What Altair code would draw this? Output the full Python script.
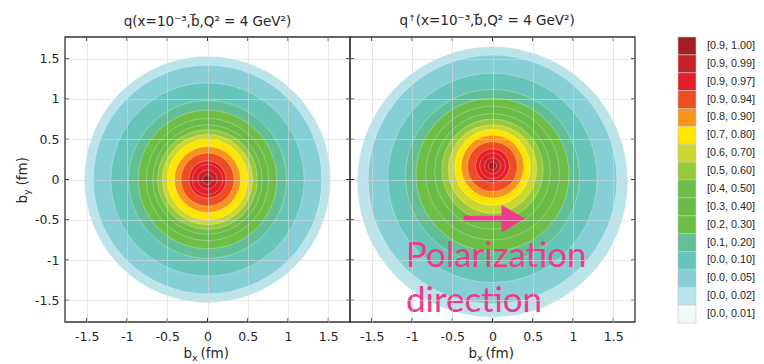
import altair as alt
import pandas as pd

# ---------------- data ----------------
band_labels = ["[0.9, 1.00]", "[0.9, 0.99]", "[0.9, 0.97]", "[0.9, 0.94]", "[0.8, 0.90]",
               "[0.7, 0.80]", "[0.6, 0.70]", "[0.5, 0.60]", "[0.4, 0.50]", "[0.3, 0.40]",
               "[0.2, 0.30]", "[0.1, 0.20]", "[0.0, 0.10]", "[0.0, 0.05]", "[0.0, 0.02]",
               "[0.0, 0.01]"]
band_colors = ["#A51C22", "#C82027", "#E31E26", "#EE4D24", "#F7941D",
               "#FFE600", "#CBD62F", "#97C93C", "#6DBE45", "#69BA47",
               "#6DBE45", "#63BF96", "#66C5B8", "#86CFD5", "#BBE4EA",
               "#F3F9FA"]

# left panel contours (band index, radius in fm, centre b_y in fm), outer -> inner
left_band = [14, 13, 12, 11, 10, 9, 8, 7, 6, 5, 4, 3, 2, 2, 1, 0]
left_r = [1.53, 1.42, 1.20, 0.98, 0.86, 0.76, 0.68, 0.62, 0.56, 0.50, 0.41, 0.33, 0.23, 0.19, 0.12, 0.06]
left_cy = [0.0] * 16

# right panel contours
right_band = [14, 13, 12, 11, 10, 9, 8, 7, 6, 5, 4, 3, 2, 2, 1, 0]
right_r = [1.68, 1.545, 1.30, 1.08, 0.95, 0.83, 0.72, 0.63, 0.55, 0.47, 0.39, 0.31, 0.21, 0.16, 0.10, 0.05]
right_cy = [-0.03, 0.0, 0.02, 0.04, 0.06, 0.08, 0.10, 0.12, 0.13, 0.15, 0.16, 0.16, 0.17, 0.17, 0.17, 0.17]

tick_values = [-1.5, -1, -0.5, 0, 0.5, 1, 1.5]
title_left = "q(x=10\u207b\u00b3,b\u20d7,Q\u00b2 = 4 GeV\u00b2)"
title_right_parts = ["q", "\u2191", "(x=10\u207b\u00b3,b\u20d7,Q\u00b2 = 4 GeV\u00b2)"]

arrow_x = [-0.36, 0.20]
arrow_y = [-0.486, -0.486]
arrow_head_x = [0.26]
arrow_head_y = [-0.486]
note_lines = ["Polarization", "direction"]

# ---------------- layout ----------------
W = 285
H = 285
DOM = [-1.77, 1.77]
FONT = "DejaVu Sans"
PINK = "#EE3A8C"
INK = "#262626"

xs = alt.Scale(domain=DOM, nice=False, zero=False)
ys = alt.Scale(domain=DOM, nice=False, zero=False)
cscale = alt.Scale(domain=band_labels, range=band_colors)
# symbol size = (diameter in px)^2 ; diameter = 2 * r * (W / (DOM[1]-DOM[0]))
sscale = alt.Scale(type="pow", exponent=2, domain=[0, DOM[1]], range=[0, W * W], zero=True)


def xaxis(labels=True):
    return alt.Axis(values=tick_values, grid=True, gridColor="#d9d9d9", gridOpacity=0.75, gridWidth=0.8,
                    ticks=False, domain=False, labels=labels, labelFontSize=12.5, labelFont=FONT,
                    labelColor=INK, labelPadding=8, title=None, zindex=1, labelFlush=False,
                    labelExpr="toString(datum.value)")


def yaxis(labels=True):
    return alt.Axis(values=tick_values, grid=True, gridColor="#d9d9d9", gridOpacity=0.75, gridWidth=0.8,
                    ticks=False, domain=False, labels=labels, labelFontSize=12.5, labelFont=FONT,
                    labelColor=INK, labelPadding=6, title=None, zindex=1, labelFlush=False,
                    labelExpr="toString(datum.value)")


def panel(bands, radii, cys, ylabels, extra, title=None):
    df = pd.DataFrame({
        "band": [band_labels[i] for i in bands],
        "r": radii,
        "cx": [0.0] * len(radii),
        "cy": cys,
    })
    disks = alt.Chart(df).mark_circle(opacity=1, stroke="#ffffff", strokeOpacity=0.4,
                                      strokeWidth=0.7).encode(
        x=alt.X("cx:Q", scale=xs, axis=xaxis(True)),
        y=alt.Y("cy:Q", scale=ys, axis=yaxis(ylabels)),
        size=alt.Size("r:Q", scale=sscale, legend=None),
        color=alt.Color("band:N", scale=cscale, legend=None),
    )
    tdf = pd.DataFrame({"t": tick_values})
    tick_b = alt.Chart(tdf).mark_rule(color="#333333", strokeWidth=1).encode(
        x=alt.X("t:Q", scale=xs, axis=xaxis(True)), y=alt.value(H - 4), y2=alt.value(H))
    tick_t = alt.Chart(tdf).mark_rule(color="#333333", strokeWidth=1).encode(
        x=alt.X("t:Q", scale=xs, axis=xaxis(True)), y=alt.value(0), y2=alt.value(4))
    tick_l = alt.Chart(tdf).mark_rule(color="#333333", strokeWidth=1).encode(
        y=alt.Y("t:Q", scale=ys, axis=yaxis(ylabels)), x=alt.value(0), x2=alt.value(4))
    tick_r = alt.Chart(tdf).mark_rule(color="#333333", strokeWidth=1).encode(
        y=alt.Y("t:Q", scale=ys, axis=yaxis(ylabels)), x=alt.value(W - 4), x2=alt.value(W))
    frame = alt.Chart(pd.DataFrame({"f": [0]})).mark_rect(
        fill="transparent", stroke="#333333", strokeWidth=1.3).encode(
        x=alt.value(0), x2=alt.value(W), y=alt.value(0), y2=alt.value(H))

    one = pd.DataFrame({"s": ["b", "x", "(fm)"]})
    xt_b = alt.Chart(one).transform_filter("datum.s == 'b'").mark_text(
        font=FONT, fontSize=13.5, align="left", baseline="alphabetic", color=INK).encode(
        text="s:N", x=alt.value(W / 2 - 24), y=alt.value(H + 36))
    xt_s = alt.Chart(one).transform_filter("datum.s == 'x'").mark_text(
        font=FONT, fontSize=9.5, align="left", baseline="alphabetic", color=INK).encode(
        text="s:N", x=alt.value(W / 2 - 15.5), y=alt.value(H + 39))
    xt_u = alt.Chart(one).transform_filter("datum.s == '(fm)'").mark_text(
        font=FONT, fontSize=13.5, align="left", baseline="alphabetic", color=INK).encode(
        text="s:N", x=alt.value(W / 2 - 7), y=alt.value(H + 36))
    layers = [disks, tick_b, tick_t, tick_l, tick_r, frame, xt_b, xt_s, xt_u] + extra
    props = dict(width=W, height=H)
    if title is not None:
        props["title"] = alt.TitleParams(title, font=FONT, fontSize=13.5, fontWeight="normal",
                                         color=INK, offset=8)
    return alt.layer(*layers).properties(**props)


ydf = pd.DataFrame({"s": ["b", "y", "(fm)"]})
yt_b = alt.Chart(ydf).transform_filter("datum.s == 'b'").mark_text(
    font=FONT, fontSize=13.5, angle=270, align="left", baseline="alphabetic", color=INK).encode(
    text="s:N", x=alt.value(-38), y=alt.value(H / 2 + 24))
yt_s = alt.Chart(ydf).transform_filter("datum.s == 'y'").mark_text(
    font=FONT, fontSize=9.5, angle=270, align="left", baseline="alphabetic", color=INK).encode(
    text="s:N", x=alt.value(-35), y=alt.value(H / 2 + 15.5))
yt_u = alt.Chart(ydf).transform_filter("datum.s == '(fm)'").mark_text(
    font=FONT, fontSize=13.5, angle=270, align="left", baseline="alphabetic", color=INK).encode(
    text="s:N", x=alt.value(-38), y=alt.value(H / 2 + 6))

# right panel title built from text pieces (small raised arrow after q)
rdf = pd.DataFrame({"s": title_right_parts, "k": [0, 1, 2]})
rt_q = alt.Chart(rdf).transform_filter("datum.k == 0").mark_text(
    font=FONT, fontSize=13.5, align="left", baseline="alphabetic", color=INK).encode(
    text="s:N", x=alt.value(49.5), y=alt.value(-12))
rt_a = alt.Chart(rdf).transform_filter("datum.k == 1").mark_text(
    font=FONT, fontSize=8.5, align="left", baseline="alphabetic", color=INK).encode(
    text="s:N", x=alt.value(58.4), y=alt.value(-16.5))
rt_r = alt.Chart(rdf).transform_filter("datum.k == 2").mark_text(
    font=FONT, fontSize=13.5, align="left", baseline="alphabetic", color=INK).encode(
    text="s:N", x=alt.value(65.8), y=alt.value(-12))

# annotation on right panel
adf = pd.DataFrame({"x": arrow_x, "y": arrow_y})
arrow_line = alt.Chart(adf).mark_line(color=PINK, strokeWidth=6).encode(
    x=alt.X("x:Q", scale=xs, axis=xaxis(True)), y=alt.Y("y:Q", scale=ys, axis=yaxis(False)))
hdf = pd.DataFrame({"x": arrow_head_x, "y": arrow_head_y})
arrow_tip = alt.Chart(hdf).mark_point(shape="triangle-right", filled=True, color=PINK,
                                       opacity=1, size=750).encode(
    x=alt.X("x:Q", scale=xs, axis=xaxis(True)), y=alt.Y("y:Q", scale=ys, axis=yaxis(False)))
ndf = pd.DataFrame({"txt": note_lines})
note1 = alt.Chart(ndf).transform_filter("datum.txt == 'Polarization'").mark_text(
    font="Lato", fontSize=35, align="left", baseline="alphabetic", color=PINK).encode(
    text="txt:N", x=alt.value(56), y=alt.value(230))
note2 = alt.Chart(ndf).transform_filter("datum.txt == 'direction'").mark_text(
    font="Lato", fontSize=35, align="left", baseline="alphabetic", color=PINK).encode(
    text="txt:N", x=alt.value(56), y=alt.value(275))

left = panel(left_band, left_r, left_cy, True, [yt_b, yt_s, yt_u], title=title_left)
right = panel(right_band, right_r, right_cy, False, [arrow_line, arrow_tip, note1, note2, rt_q, rt_a, rt_r])

# legend panel
ldf = pd.DataFrame({"band": band_labels})
lrect = alt.Chart(ldf).mark_rect(stroke="#c8c8c8", strokeWidth=0.6).encode(
    y=alt.Y("band:N", sort=band_labels, axis=None, scale=alt.Scale(paddingInner=0, paddingOuter=0)),
    x=alt.value(43), x2=alt.value(61),
    color=alt.Color("band:N", scale=cscale, legend=None),
)
ltext = alt.Chart(ldf).mark_text(font="Liberation Sans", fontSize=10.8, align="left", baseline="middle",
                                 color=INK).encode(
    y=alt.Y("band:N", sort=band_labels, axis=None, scale=alt.Scale(paddingInner=0, paddingOuter=0)),
    x=alt.value(72), text="band:N",
)
legend = alt.layer(lrect, ltext).properties(width=110, height=H + 1)

chart = alt.hconcat(left, right, legend, spacing=0, bounds="flush").properties(
    padding={"left": 7, "top": 5, "right": 0, "bottom": 0}
).configure(font=FONT).configure_view(stroke="transparent")

chart.save("out.html", embed_options={"renderer": "svg", "actions": False})
